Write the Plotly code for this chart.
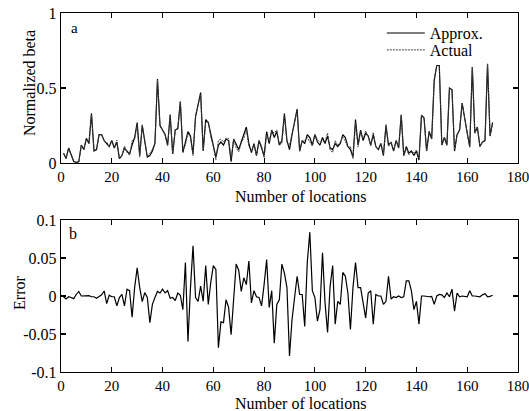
import plotly.graph_objects as go

x_top = list(range(1, 171))
approx = [0.065, 0.03, 0.10, 0.05, 0.01, 0.005, 0.01, 0.12, 0.09, 0.165,
          0.13, 0.33, 0.08, 0.09, 0.19, 0.19, 0.15, 0.13, 0.11, 0.15,
          0.10, 0.14, 0.03, 0.05, 0.10, 0.08, 0.06, 0.12, 0.17, 0.27,
          0.05, 0.25, 0.14, 0.04, 0.05, 0.08, 0.13, 0.56, 0.25, 0.22,
          0.19, 0.12, 0.32, 0.06, 0.22, 0.23, 0.41, 0.07, 0.14, 0.21,
          0.18, 0.06, 0.31, 0.38, 0.47, 0.08, 0.29, 0.27, 0.19, 0.13,
          0.04, 0.12, 0.14, 0.12, 0.16, 0.15, 0.01, 0.16, 0.12, 0.09,
          0.14, 0.19, 0.24, 0.13, 0.07, 0.13, 0.05, 0.15, 0.10, 0.05,
          0.21, 0.13, 0.22, 0.17, 0.21, 0.12, 0.15, 0.33, 0.15, 0.09,
          0.19, 0.27, 0.36, 0.08, 0.15, 0.13, 0.19, 0.17, 0.12, 0.19,
          0.14, 0.12, 0.17, 0.13, 0.18, 0.10, 0.09, 0.13, 0.11, 0.13,
          0.19, 0.17, 0.11, 0.09, 0.04, 0.29, 0.12, 0.22, 0.15, 0.20,
          0.18, 0.12, 0.19, 0.11, 0.09, 0.13, 0.05, 0.25, 0.12, 0.14,
          0.08, 0.15, 0.10, 0.32, 0.05, 0.11, 0.065, 0.08, 0.05, 0.08,
          0.02, 0.32, 0.30, 0.08, 0.21, 0.16, 0.55, 0.65, 0.65, 0.12,
          0.17, 0.12, 0.50, 0.49, 0.08, 0.19, 0.22, 0.40, 0.29, 0.20,
          0.11, 0.64, 0.20, 0.24, 0.11, 0.14, 0.15, 0.66, 0.18, 0.27]
actual = [0.066, 0.034, 0.101, 0.052, 0.014, 0.003, 0.004, 0.12, 0.09, 0.165,
          0.13, 0.331, 0.081, 0.093, 0.191, 0.188, 0.143, 0.14, 0.109, 0.151,
          0.101, 0.153, 0.032, 0.048, 0.113, 0.071, 0.053, 0.148, 0.159, 0.255,
          0.039, 0.257, 0.135, 0.042, 0.065, 0.091, 0.132, 0.554, 0.246, 0.211,
          0.186, 0.113, 0.323, 0.062, 0.226, 0.226, 0.409, 0.088, 0.12, 0.20,
          0.169, 0.05, 0.312, 0.387, 0.457, 0.087, 0.27, 0.281, 0.172, 0.11,
          0.02, 0.15, 0.16, 0.14, 0.165, 0.165, 0.03, 0.158, 0.10, 0.075,
          0.134, 0.166, 0.225, 0.11, 0.079, 0.123, 0.051, 0.152, 0.113, 0.035,
          0.19, 0.145, 0.213, 0.20, 0.221, 0.125, 0.13, 0.32, 0.139, 0.12,
          0.20, 0.272, 0.345, 0.078, 0.148, 0.15, 0.17, 0.14, 0.113, 0.192,
          0.155, 0.138, 0.145, 0.139, 0.20, 0.087, 0.07, 0.15, 0.117, 0.141,
          0.175, 0.144, 0.106, 0.11, 0.029, 0.27, 0.109, 0.209, 0.161, 0.215,
          0.176, 0.113, 0.205, 0.108, 0.09, 0.13, 0.061, 0.257, 0.11, 0.144,
          0.081, 0.152, 0.10, 0.322, 0.051, 0.10, 0.055, 0.073, 0.068, 0.087,
          0.035, 0.32, 0.30, 0.081, 0.211, 0.161, 0.561, 0.65, 0.648, 0.119,
          0.172, 0.116, 0.501, 0.481, 0.09, 0.186, 0.221, 0.40, 0.291, 0.201,
          0.103, 0.64, 0.20, 0.24, 0.111, 0.139, 0.147, 0.661, 0.181, 0.269]

x_err = list(range(0, 171))
error = [0.0, -0.001, -0.004, -0.001, -0.002, -0.0035, 0.002, 0.006, 0.0, 0.0,
         0.0, 0.0005, -0.001, -0.001, -0.003, -0.001, 0.0015, 0.0066, -0.010, 0.001,
         -0.001, -0.001, -0.013, -0.002, 0.002, -0.013, 0.009, 0.007, -0.028, 0.011,
         0.037, 0.011, -0.0075, 0.0045, -0.002, -0.035, -0.011, -0.002, 0.006, 0.004,
         0.009, 0.004, 0.007, -0.003, -0.002, -0.006, 0.004, 0.001, -0.018, 0.044,
         -0.060, 0.011, 0.066, -0.002, -0.007, 0.013, -0.007, 0.040, -0.011, 0.018,
         0.040, 0.035, -0.068, -0.034, -0.035, -0.005, -0.015, -0.051, 0.002, 0.042,
         0.034, 0.006, 0.024, 0.015, 0.046, -0.009, 0.007, -0.001, -0.002, -0.013,
         0.015, 0.048, -0.015, 0.007, -0.062, -0.011, -0.005, 0.042, 0.030, 0.011,
         -0.079, -0.031, -0.002, 0.026, 0.002, 0.002, -0.040, 0.044, 0.084, 0.007,
         -0.002, -0.033, -0.018, 0.057, -0.009, -0.048, 0.013, 0.040, -0.037, -0.007,
         -0.011, 0.031, 0.026, 0.004, -0.044, 0.011, 0.044, 0.011, 0.011, -0.011,
         -0.029, 0.004, 0.007, -0.037, 0.002, 0.0, 0.0, -0.011, -0.007, 0.026,
         -0.004, -0.001, -0.002, 0.0, -0.002, -0.001, 0.020, 0.020, 0.007, -0.018,
         -0.007, -0.037, 0.0, 0.0, -0.001, -0.001, -0.0005, -0.011, 0.0, 0.002,
         0.0015, -0.002, 0.004, -0.001, 0.009, -0.020, 0.004, -0.001, 0.0, -0.001,
         -0.001, 0.007, 0.0, 0.0, -0.0005, -0.001, 0.0015, 0.003, -0.001, -0.0005,
         0.001]

x_ticks = [0, 20, 40, 60, 80, 100, 120, 140, 160, 180]
top_ticks = [0, 0.5, 1]
top_tick_text = ["0", "0.5", "1"]
bot_ticks = [-0.1, -0.05, 0, 0.05, 0.1]
bot_tick_text = ["-0.1", "-0.05", "0", "0.05", "0.1"]

FONT = "Liberation Serif"

fig = go.Figure()
fig.add_trace(go.Scatter(x=x_top, y=approx, mode="lines", name="Approx.",
                         line=dict(color="black", width=1.2),
                         xaxis="x", yaxis="y", legend="legend"))
fig.add_trace(go.Scatter(x=x_top, y=actual, mode="lines", name="Actual",
                         line=dict(color="#444444", width=1, dash="2px,1px"),
                         xaxis="x", yaxis="y", legend="legend2"))
fig.add_trace(go.Scatter(x=x_err, y=error, mode="lines", name="Error",
                         showlegend=False,
                         line=dict(color="black", width=1.2),
                         xaxis="x2", yaxis="y2"))

axis_common = dict(showgrid=False, zeroline=False, showline=True,
                   linecolor="black", linewidth=1.3, mirror="ticks",
                   ticks="inside", ticklen=5, tickwidth=1.2, tickcolor="black",
                   automargin=False)

xfont = dict(family=FONT, size=15, color="black")
yfont = dict(family=FONT, size=16, color="black")

legend_common = dict(xanchor="left", yanchor="middle",
                     bgcolor="rgba(0,0,0,0)", borderwidth=0,
                     font=dict(family=FONT, size=16, color="black"),
                     itemwidth=38)

def ann(text, x, y, size=16, angle=0):
    return dict(text=text, x=x, y=y, xref="paper", yref="paper",
                showarrow=False, xanchor="center", yanchor="middle",
                textangle=angle,
                font=dict(family=FONT, size=size, color="black"))

fig.update_layout(
    width=529, height=411,
    margin=dict(l=61, r=11, t=13, b=39, autoexpand=False),
    paper_bgcolor="white", plot_bgcolor="white",
    font=dict(family=FONT, size=16, color="black"),
    showlegend=True,
    legend=dict(x=0.702, y=0.944, **legend_common),
    legend2=dict(x=0.702, y=0.897, **legend_common),
    xaxis=dict(domain=[0, 1], range=[0, 180], tickvals=x_ticks,
               anchor="y", tickfont=xfont, ticklabeloverflow="allow",
               **axis_common),
    yaxis=dict(domain=[0.582, 1], range=[0, 1], tickvals=top_ticks,
               ticktext=top_tick_text, anchor="x", tickfont=yfont,
               **axis_common),
    xaxis2=dict(domain=[0, 1], range=[0, 180], tickvals=x_ticks,
                anchor="y2", tickfont=xfont, ticklabeloverflow="allow",
                **axis_common),
    yaxis2=dict(domain=[0, 0.4234], range=[-0.1, 0.1], tickvals=bot_ticks,
                ticktext=bot_tick_text, anchor="x2", tickfont=yfont,
                **axis_common),
    annotations=[
        ann("Number of locations", 0.525, 0.4875),
        ann("Number of locations", 0.525, -0.0864),
        ann("Normalized beta", -0.070, 0.805, angle=-90),
        ann("Error", -0.092, 0.22, angle=-90),
        ann("a", 0.0306, 0.958, size=15),
        ann("b", 0.026, 0.387, size=16),
    ],
)

fig.write_html("out.html",
               config={"displayModeBar": False, "staticPlot": True},
               post_script="document.body.style.margin='0px';"
                           "document.body.style.overflow='hidden';")
